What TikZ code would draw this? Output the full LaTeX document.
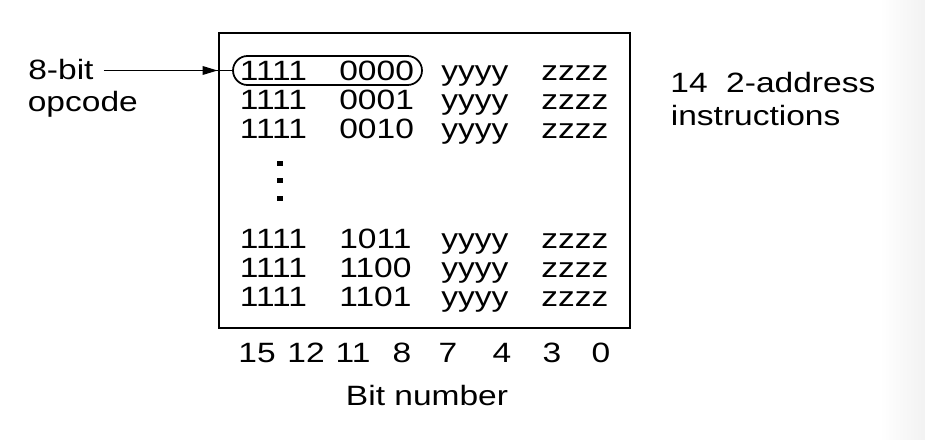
\documentclass[tikz,border=0pt]{standalone}
\usepackage{fontspec}
\setmainfont{Liberation Sans}[FakeStretch=1.2]
\usetikzlibrary{arrows.meta, positioning}

\begin{document}
\begin{tikzpicture}[
    % One unit is one pixel of the reference
    x=0.02cm, y=-0.02cm,
    >={Triangle[length=0.3cm, width=0.17cm]},
    txt/.style={inner sep=0pt, anchor=base west, font=\fontsize{15.9}{19}\selectfont},
    thinline/.style={line width=1pt}
]
    \useasboundingbox (0,0) rectangle (925,439);

    % --- Faint shade at the right edge ---
    \shade[left color=white, right color=gray!10] (880,0) rectangle (925,439);

    % --- Frame round the instructions ---
    \node[draw, line width=1.6pt, inner sep=0pt, minimum width=8.22cm, minimum height=5.9cm] (frame) at (424.5,180.5) {};

    % --- Instruction rows ---
    \foreach \y/\op [count=\i] in {81/0000, 109.5/0001, 138/0010, 248/1011, 277/1100, 306/1101} {
        \node[txt] (hi\i) at (239.5,\y) {1111};
        \node[txt] (op\i) at (339,\y) {\op};
        \node[txt] (ya\i) at (441,\y) {yyyy};
        \node[txt] (za\i) at (541,\y) {zzzz};
    }

    % --- Vertical dots ---
    \foreach \y in {163.5, 180.5, 198.5}
        \fill (277.3,\y-2.7) rectangle (282.7,\y+2.7);

    % --- Oval round the opcode ---
    \node[draw, thinline, rounded corners=0.29cm, minimum width=3.78cm, minimum height=0.58cm, inner sep=0pt] (opcode) at (327.5,70.5) {};

    % --- Labels ---
    \node[txt] (lblbit) at (28,79) {8-bit};
    \node[txt] (lblop) at (27.5,112) {opcode};
    \coordinate (tail) at ([xshift=0.2cm]lblbit.east |- opcode.west);
    \draw[thinline] (tail) -- (opcode.west);
    \draw[thinline, ->] (tail) -- (tail -| frame.west);

    \node[txt] (lblcnt) at (670,92) {14\ \ 2-address};
    \node[txt] (lblins) at (670.5,125) {instructions};

    % --- Bit numbers ---
    \foreach \x/\b in {257/15, 306/12, 353/11, 402/8, 448/7, 502/4, 552/3, 601/0}
        \node[txt, anchor=base] (bit\b) at (\x,362) {\b};
    \node[txt, anchor=base] (axis) at (427,405) {Bit number};
\end{tikzpicture}
\end{document}
